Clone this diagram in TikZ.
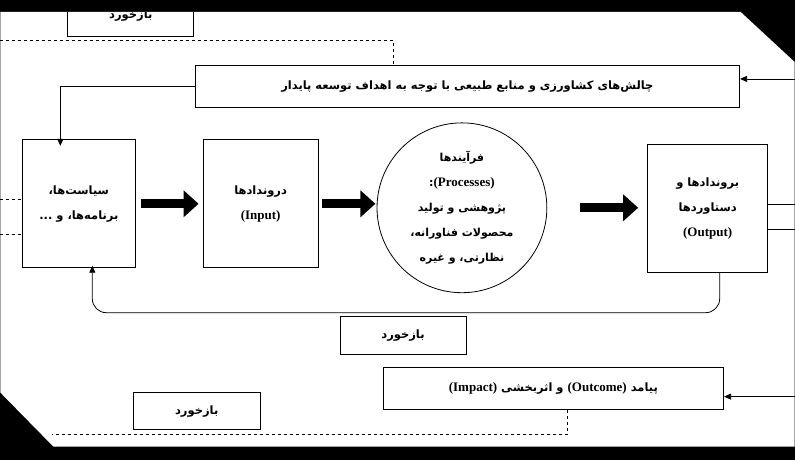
\documentclass[tikz,border=0pt]{standalone}
\usepackage{fontspec}
\newfontfamily\fa[Script=Arabic]{DejaVu Sans}
\setmainfont{Liberation Serif}
\usetikzlibrary{arrows.meta}
\TeXXeTstate=1
\newcommand{\rl}[1]{\beginR#1\endR}
\newcommand{\lr}[1]{\beginL{\rmfamily\bfseries\fontsize{13}{19}\selectfont#1}\endL}
\begin{document}
\begin{tikzpicture}[x=1pt,y=-1pt,
    box/.style={draw,thick,align=center,font=\fa\bfseries\fontsize{11.5}{25}\selectfont,inner sep=0pt},
    block/.style={line width=9pt,-{Triangle[length=15pt,width=26pt]}},
    fb/.style={thick,dashed}]
  \fill[black] (0,0) rectangle (795,460);
  \fill[white] (0,12) -- (741,12) -- (795,62) -- (795,447) -- (53,447) -- (0,393) -- cycle;
  \begin{scope}
    \clip (0,12) -- (741,12) -- (795,62) -- (795,447) -- (53,447) -- (0,393) -- cycle;
    \node[box,minimum width=126pt,minimum height=50pt] (fbtop) at (130.5,11) {};
    \node[font=\fa\bfseries\fontsize{11.5}{14}\selectfont] (fbtoptext) at (130.5,16) {\rl{بازخورد}};
  \end{scope}

  \node[box,minimum width=545pt,minimum height=43pt] (challenge) at (467.5,86.5) {\rl{چالش‌های کشاورزی و منابع طبیعی با توجه به اهداف توسعه پایدار}};
  \node[box,minimum width=113pt,minimum height=128pt] (policy) at (78.5,204) {\rl{سیاست‌ها،}\\\rl{برنامه‌ها، و ...}};
  \node[box,minimum width=115pt,minimum height=128pt] (input) at (260.5,204) {\rl{دروندادها}\\\lr{(Input)}};
  \node[box,circle,minimum size=170pt,font=\fa\bfseries\fontsize{11}{25}\selectfont] (process) at (462,208) {\rl{فرآیندها}\\\rl{\lr{(Processes)}:}\\\rl{پژوهشی و تولید}\\\rl{محصولات فناورانه،}\\\rl{نظارتی، و غیره}};
  \node[box,minimum width=120pt,minimum height=128pt] (output) at (708,209) {\rl{بروندادها و}\\\rl{دستاوردها}\\\lr{(Output)}};
  \node[box,minimum width=126pt,minimum height=38pt] (fbmid) at (403,336) {\rl{بازخورد}};
  \node[box,minimum width=341pt,minimum height=42pt] (outcome) at (553.5,389) {\rl{پیامد \lr{(Outcome)} و اثربخشی \lr{(Impact)}}};
  \node[box,minimum width=127pt,minimum height=37pt] (fbbot) at (196.5,411.5) {\rl{بازخورد}};

  \coordinate (rtop) at (795,79);
  \coordinate (rbot) at (795,397);
  \coordinate (lbot) at (52,435);
  \coordinate (ltop) at (0,40);

  % thick arrows between stages
  \draw[block] (policy.east) ++(5,0) -- ++(58,0);
  \draw[block] (input.east) ++(4,0) -- ++(53,0);
  \draw[block] (process.east) ++(33,0) -- ++(58,0);

  \draw[thick,-{Triangle[length=7pt,width=6pt]}] (rtop) -- (challenge.east |- rtop);
  \draw[thick,-{Triangle[length=7pt,width=6pt]}] (rbot) -- (outcome.east |- rbot);
  \draw[thick,-{Triangle[length=7pt,width=6pt]}] (challenge.west) -- (60,86.5) -- ([yshift=-6pt]60,140);
  \draw[thick,rounded corners=14pt,-{Triangle[length=7pt,width=6pt]}] (720,273) -- (720,313) -- (92,313) -- ([yshift=2pt]92,268);

  \draw[fb] (ltop) -- (393,40) -- (challenge.north -| 393,0);
  \draw[fb] (outcome.south -| 568,0) -- (568,435) -- (lbot);
  \draw[fb] (0,200) -- (policy.west |- 0,200);
  \draw[fb] (0,235) -- (policy.west |- 0,235);
  \draw[thick] (output.east |- 0,205) -- (795,205);
  \draw[thick] (output.east |- 0,230) -- (795,230);
\end{tikzpicture}
\end{document}
